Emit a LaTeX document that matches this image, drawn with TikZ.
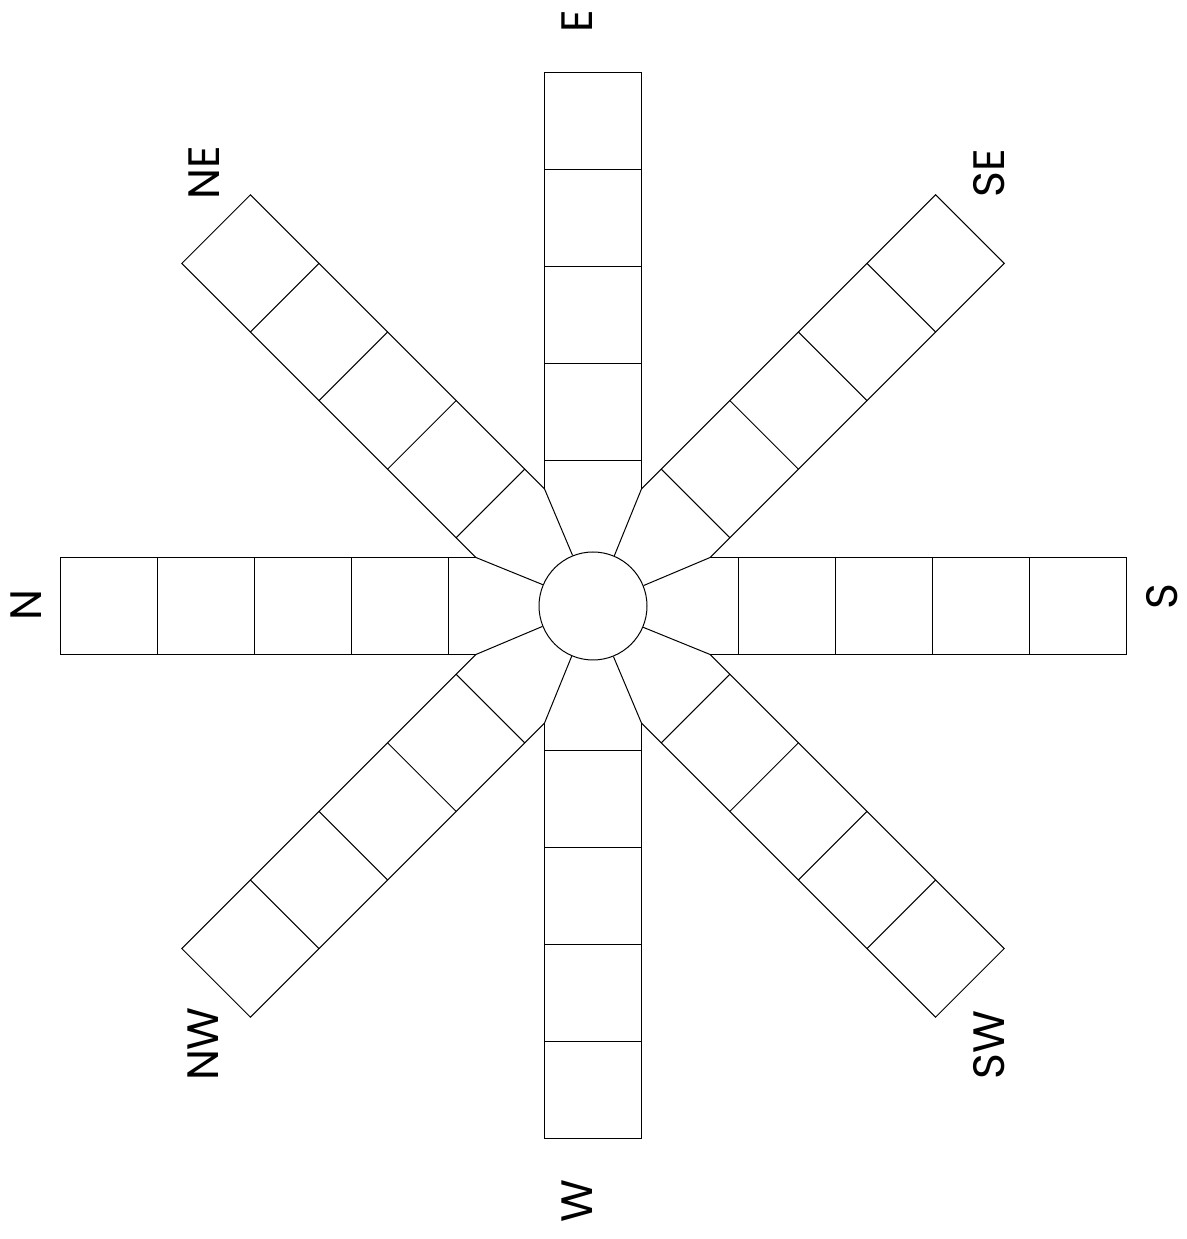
\documentclass[tikz,border=0pt]{standalone}
\usepackage{fontspec}
\setmainfont{Poppins}
\newcommand{\arm}[1]{%
  \begin{scope}[rotate=#1]
    \draw (117.1,48.5) -- (533,48.5) -- (533,-48.5) -- (117.1,-48.5);
    \foreach \d in {145,242,339,436} \draw (\d,-48.5) -- (\d,48.5);
  \end{scope}}

\begin{document}
\begin{tikzpicture}[x=1pt,y=1pt,line width=1pt]
  \useasboundingbox (0,0) rectangle (1186,1239);
  \begin{scope}[shift={(593,633)}]
    \node[circle,draw,minimum size=108,inner sep=0pt] (hub) at (0,0) {};
    \foreach \a [evaluate=\a as \b using \a+22.5] in {0,45,...,315} {
      \arm{\a}
      \draw (hub.\b) -- (\b:126.75);
    }
  \end{scope}
  \foreach \n/\x/\y/\t in {lblN/26.5/633.5/N,lblE/577/1217.3/E,lblS/1162/642.3/S,lblW/577/38/W,
      lblNE/203.8/1066.1/NE,lblSE/988.7/1065.7/SE,lblNW/203/195/NW,lblSW/988.7/194/SW}
    \node[rotate=90,inner sep=0pt,font=\fontsize{44}{48}\selectfont] (\n) at (\x,\y) {\t};
\end{tikzpicture}
\end{document}
